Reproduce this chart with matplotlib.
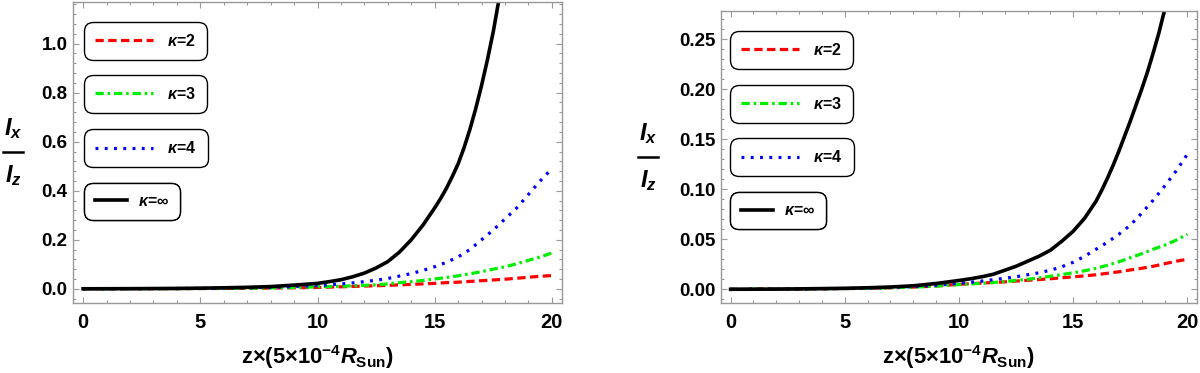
import numpy as np
import matplotlib
matplotlib.use("Agg")
import matplotlib.pyplot as plt
from matplotlib.lines import Line2D
from matplotlib.ticker import MultipleLocator

plt.rcParams['font.family'] = ['Liberation Sans', 'DejaVu Sans']
plt.rcParams['font.weight'] = 'bold'
plt.rcParams['mathtext.fontset'] = 'custom'
plt.rcParams['mathtext.rm'] = 'Liberation Sans:bold'
plt.rcParams['mathtext.bf'] = 'Liberation Sans:bold'
plt.rcParams['mathtext.sf'] = 'Liberation Sans:bold'
plt.rcParams['mathtext.it'] = 'Liberation Sans:bold:italic'

## DATA
z = [0, 1, 2, 3, 4, 5, 6, 7, 8, 9, 10, 10.5, 11, 11.5, 12, 12.5, 13, 13.5,
     14, 14.5, 15, 15.5, 16, 16.5, 17, 17.5, 18, 18.5, 19, 19.5, 20]

# left panel
red_l = [0, 0.0001, 0.0002, 0.0004, 0.0006, 0.001, 0.0014, 0.002, 0.003, 0.004, 0.0055,
         0.0068, 0.008, 0.0095, 0.011, 0.0125, 0.014, 0.016, 0.018, 0.020, 0.022, 0.025,
         0.027, 0.030, 0.033, 0.036, 0.039, 0.043, 0.047, 0.051, 0.054]
green_l = [0, 0.0001, 0.0003, 0.0005, 0.0008, 0.0012, 0.0018, 0.0026, 0.0038, 0.0055, 0.008,
           0.0092, 0.0105, 0.012, 0.014, 0.016, 0.020, 0.025, 0.029, 0.034, 0.040, 0.046,
           0.053, 0.061, 0.070, 0.080, 0.090, 0.102, 0.116, 0.130, 0.146]
blue_l = [0, 0.0002, 0.0004, 0.0007, 0.0011, 0.0017, 0.0026, 0.004, 0.006, 0.009, 0.0135,
          0.016, 0.020, 0.024, 0.029, 0.035, 0.042, 0.052, 0.062, 0.075, 0.090, 0.108,
          0.130, 0.160, 0.200, 0.240, 0.285, 0.330, 0.385, 0.440, 0.490]
# black curve is steep, read on a finer grid
z_black_l = [0, 1, 2, 3, 4, 5, 6, 7, 8, 9, 10, 10.5, 11, 11.5, 12, 12.5, 13, 13.5, 14,
             14.5, 15, 15.25, 15.5, 15.75, 16, 16.25, 16.5, 16.75, 17, 17.25, 17.5, 17.75, 18]
black_l = [0, 0.0002, 0.0005, 0.001, 0.0015, 0.0025, 0.004, 0.006, 0.009, 0.015, 0.022,
           0.029, 0.037, 0.049, 0.064, 0.085, 0.111, 0.150, 0.200, 0.260, 0.330, 0.368,
           0.410, 0.458, 0.510, 0.575, 0.650, 0.735, 0.830, 0.935, 1.050, 1.185, 1.330]

# right panel
red_r = [0, 0.0001, 0.0002, 0.0003, 0.0005, 0.0007, 0.001, 0.0015, 0.0022, 0.0033, 0.005,
         0.0056, 0.0062, 0.0068, 0.0074, 0.0082, 0.009, 0.0097, 0.0105, 0.0115, 0.0124,
         0.0134, 0.0145, 0.016, 0.0175, 0.0193, 0.021, 0.023, 0.0255, 0.028, 0.030]
green_r = [0, 0.0001, 0.0002, 0.0003, 0.0005, 0.0007, 0.001, 0.0015, 0.0022, 0.0032, 0.0047,
           0.0053, 0.006, 0.0068, 0.0077, 0.0088, 0.010, 0.0114, 0.013, 0.0147, 0.0165,
           0.0185, 0.021, 0.024, 0.0275, 0.0315, 0.0355, 0.040, 0.044, 0.049, 0.055]
blue_r = [0, 0.0001, 0.0002, 0.0003, 0.0005, 0.0008, 0.0012, 0.0018, 0.0027, 0.004, 0.006,
          0.007, 0.0082, 0.0096, 0.011, 0.0125, 0.0145, 0.0165, 0.019, 0.0225, 0.027,
          0.033, 0.040, 0.047, 0.055, 0.064, 0.076, 0.089, 0.103, 0.118, 0.135]
z_black_r = [0, 1, 2, 3, 4, 5, 6, 7, 8, 9, 10, 10.5, 11, 11.5, 12, 12.5, 13, 13.5, 14,
             14.5, 15, 15.5, 16, 16.25, 16.5, 16.75, 17, 17.25, 17.5, 17.75, 18, 18.25,
             18.5, 18.75, 19]
black_r = [0, 0.0001, 0.0002, 0.0004, 0.0007, 0.001, 0.0015, 0.0023, 0.0035, 0.0058, 0.0088,
           0.0105, 0.0125, 0.015, 0.019, 0.023, 0.028, 0.033, 0.039, 0.048, 0.058, 0.071,
           0.088, 0.099, 0.111, 0.124, 0.138, 0.153, 0.168, 0.184, 0.200, 0.217, 0.236,
           0.256, 0.279]

labels = [r"$\kappa$=2", r"$\kappa$=3", r"$\kappa$=4", r"$\kappa$=∞"]
##########

FRAME = '0.6'
styles = [dict(color='#ff0000', lw=2.3, dashes=(2.6, 1.4)),
          dict(color='#00ee00', lw=2.3, dashes=(2.6, 1.2, 0.8, 1.2)),
          dict(color='#0000ff', lw=2.3, dashes=(0.9, 2.0)),
          dict(color='black', lw=2.6, solid_joinstyle='round')]


def setup(ax, xlim, ylim, ymaj, ymin):
    ax.set_xlim(*xlim)
    ax.set_ylim(*ylim)
    ax.xaxis.set_major_locator(MultipleLocator(5))
    ax.xaxis.set_minor_locator(MultipleLocator(1))
    ax.yaxis.set_major_locator(MultipleLocator(ymaj))
    ax.yaxis.set_minor_locator(MultipleLocator(ymin))
    for s in ax.spines.values():
        s.set_color(FRAME)
        s.set_linewidth(1.0)
    ax.tick_params(which='both', direction='in', top=True, right=True, color=FRAME, width=0.8)
    ax.tick_params(which='major', length=4)
    ax.tick_params(which='minor', length=2.2)
    ax.tick_params(axis='x', labelsize=14.5, pad=7)
    ax.tick_params(axis='y', labelsize=13.5, pad=4)


def legends(ax, tops, left):
    for i, (lab, st) in enumerate(zip(labels, styles)):
        h = Line2D([], [], **st)
        long = i < 3
        leg = ax.legend(handles=[h], labels=[lab], loc='upper left',
                        bbox_to_anchor=(left, tops[i]), borderaxespad=0,
                        prop=dict(weight='bold', size=11.5),
                        handlelength=3.6 if long else 2.0,
                        handletextpad=0.9 if long else 0.65,
                        borderpad=0.7, framealpha=1, edgecolor='black',
                        fancybox=True)
        leg.get_frame().set_boxstyle('round', pad=0, rounding_size=0.55)
        leg.get_frame().set_linewidth(1.0)
        ax.add_artist(leg)


def ylabel(xc, yc):
    # stacked I_x / I_z with a bar, as in the original
    fig.text(xc / 1200, 1 - (yc - 23) / 373, r"$I_x$", ha='center', va='center', fontsize=17)
    fig.text(xc / 1200, 1 - (yc + 24) / 373, r"$I_z$", ha='center', va='center', fontsize=17)
    fig.add_artist(Line2D([(xc - 10) / 1200, (xc + 10) / 1200],
                          [1 - yc / 373, 1 - yc / 373], color='black', lw=1.8))


fig = plt.figure(figsize=(12, 3.73), dpi=100)
ax1 = fig.add_axes([73 / 1200, 70 / 373, 489 / 1200, 301 / 373])
ax2 = fig.add_axes([721 / 1200, 70 / 373, 476 / 1200, 292 / 373])

for ax, ys in [(ax1, [red_l, green_l, blue_l]), (ax2, [red_r, green_r, blue_r])]:
    for y, st in zip(ys, styles):
        ax.plot(z, y, **st)
ax1.plot(z_black_l, black_l, **styles[3])
ax2.plot(z_black_r, black_r, **styles[3])

setup(ax1, (-0.43, 20.43), (-0.058, 1.17), 0.2, 0.04)
setup(ax2, (-0.42, 20.42), (-0.0137, 0.278), 0.05, 0.01)
legends(ax1, [0.934, 0.758, 0.578, 0.399], 0.0225)
legends(ax2, [0.932, 0.747, 0.565, 0.380], 0.019)

xlab = r"$\mathrm{z}{\times}(5{\times}10^{-4}R_{\mathrm{Sun}})$"
fig.text(317.5 / 1200, 1 - 357 / 373, xlab, ha='center', va='center', fontsize=15.8)
fig.text(958.5 / 1200, 1 - 357 / 373, xlab, ha='center', va='center', fontsize=15.8)
ylabel(13, 152)
ylabel(648, 157)

fig.canvas.draw()
for ax in (ax1, ax2):
    for t in ax.get_xticklabels() + ax.get_yticklabels():
        t.set_fontweight('bold')

fig.savefig("out.png", dpi=100, facecolor='white')
